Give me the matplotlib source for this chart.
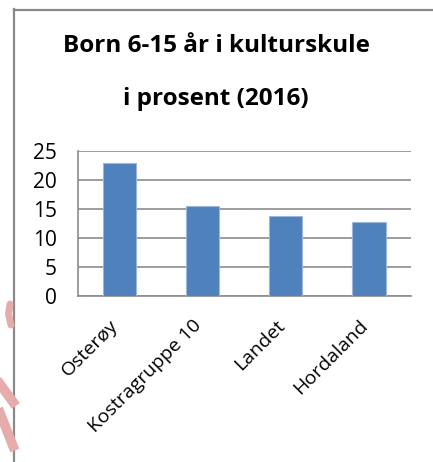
import matplotlib.pyplot as plt
import matplotlib.transforms as mtransforms
from matplotlib.lines import Line2D

categories = ["Osterøy", "Kostragruppe 10", "Landet", "Hordaland"]
values = [22.9, 15.5, 13.8, 12.8]
yticks = [0, 5, 10, 15, 20, 25]

plt.rcParams['font.family'] = ['Open Sans', 'DejaVu Sans']

W, H = 433, 462
fig = plt.figure(figsize=(W / 100, H / 100), dpi=100)

# chart frame (cropped on right and bottom)
grey = '#8a8a8a'
fig.add_artist(Line2D([14.3 / W, 14.3 / W], [1 - 9 / H, 0], color=grey, lw=1.6))
fig.add_artist(Line2D([13.5 / W, 1], [1 - 10 / H, 1 - 10 / H], color=grey, lw=1.6))

# faint pink strokes at the left edge
pink = '#e6abab'
fig.add_artist(Line2D([10 / W, 8.5 / W, 11 / W], [1 - 304 / H, 1 - 314 / H, 1 - 325 / H],
                      color=pink, lw=5, solid_capstyle='round'))
fig.add_artist(Line2D([0, 13 / W], [1 - 384 / H, 1 - 402 / H], color=pink, lw=7))
fig.add_artist(Line2D([0, 13 / W], [1 - 413 / H, 1 - 446 / H], color=pink, lw=7))

fig.text(216 / W, 1 - 46 / H, "Born 6-15 år i kulturskule", ha='center', va='center',
         fontsize=17.5, fontweight='bold', color='black')
fig.text(216 / W, 1 - 99 / H, "i prosent (2016)", ha='center', va='center',
         fontsize=17.5, fontweight='bold', color='black')

left, right = 77.7, 410.7
top, bottom = 151, 295.7
ax = fig.add_axes([left / W, 1 - bottom / H, (right - left) / W, (bottom - top) / H])

x = range(len(categories))
ax.bar(x, values, width=0.4, color='#4f81bd', edgecolor='#9bb7dc', linewidth=0.8, zorder=3)
ax.set_xlim(-0.5, len(categories) - 0.5)
ax.set_ylim(0, 25)
ax.set_yticks(yticks)
ax.set_yticklabels([str(v) for v in yticks], fontsize=15)
ax.set_xticks(list(x))
ax.set_xticklabels(categories, fontsize=14, rotation=45, ha='right', rotation_mode='anchor')
ax.tick_params(length=0)
ax.tick_params(axis='y', pad=15)
ax.tick_params(axis='x', pad=15)
shift = mtransforms.ScaledTranslation(-10 / 100, 0, fig.dpi_scale_trans)
for lab in ax.get_xticklabels():
    lab.set_transform(lab.get_transform() + shift)
ax.yaxis.grid(True, color='#8c8c8c', linewidth=1.2, zorder=0)
ax.set_axisbelow(True)
for side in ['top', 'right']:
    ax.spines[side].set_visible(False)
for side in ['left', 'bottom']:
    ax.spines[side].set_color('#8c8c8c')
    ax.spines[side].set_linewidth(1.2)

fig.savefig('out.png', dpi=100)
